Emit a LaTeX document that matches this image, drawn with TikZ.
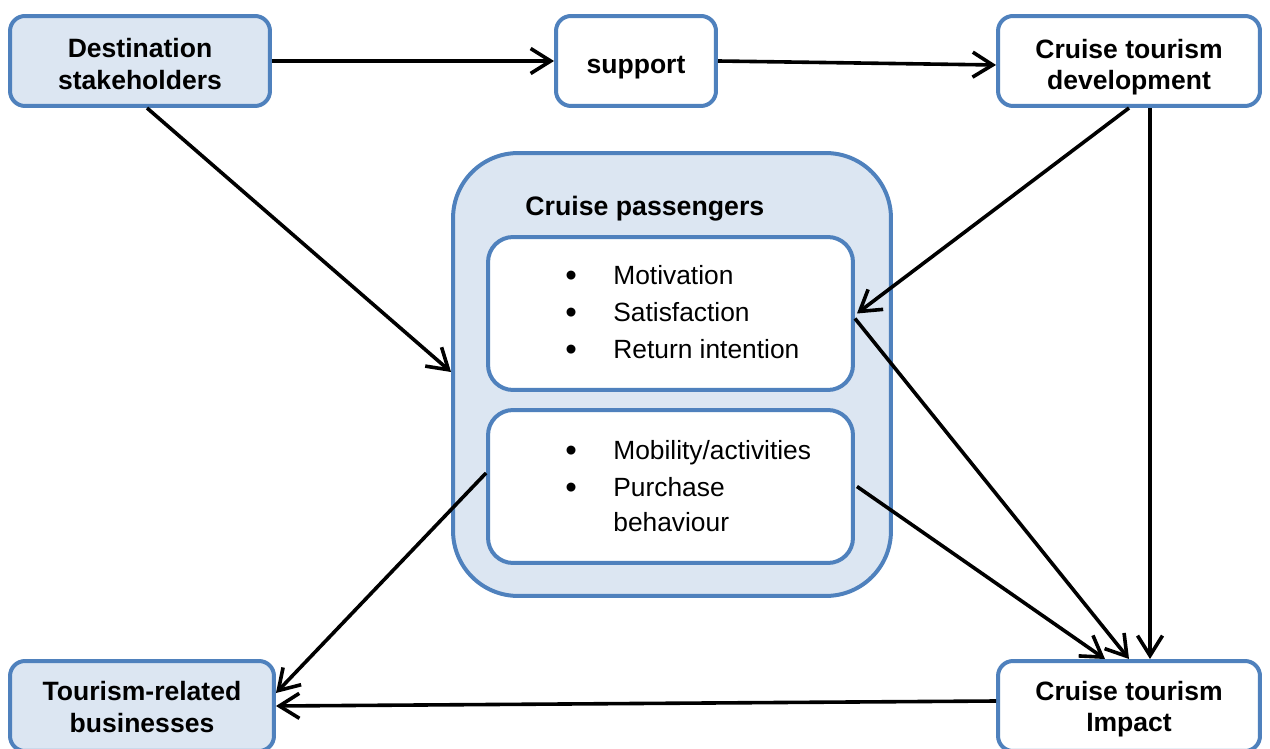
\documentclass[tikz,border=0pt]{standalone}
\usepackage{fontspec}
\setmainfont{Liberation Sans}
\usetikzlibrary{arrows.meta,calc}
\definecolor{boxline}{HTML}{4F81BD}
\definecolor{boxfill}{HTML}{DCE6F2}
\tikzset{
  box/.style={draw=boxline, line width=0.08cm, rounded corners=0.3cm,
    inner sep=0pt, minimum height=1.8cm},
  bluebox/.style={box, fill=boxfill},
  whitebox/.style={box, fill=white},
  boxtext/.style={align=center, inner sep=0pt, text=black,
    font=\fontsize{15.1pt}{17.8pt}\selectfont\bfseries},
  listbox/.style={draw=boxline, line width=0.08cm, rounded corners=0.5cm,
    fill=white, minimum width=7.3cm, minimum height=3.06cm},
  listtext/.style={anchor=west, align=left, inner sep=0pt,
    font=\fontsize{15pt}{21pt}\selectfont},
  link/.style={draw=black, line width=0.072cm,
    -{Straight Barb[length=0.4cm, width=0.5cm, line width=0.072cm]}},
}
\newcommand{\bul}{\makebox[0.96cm][l]{\raisebox{-0.06em}{\scalebox{1.25}{\textbullet}}}}
\begin{document}
\begin{tikzpicture}[x=0.02cm, y=-0.02cm]
  \useasboundingbox (0,0) rectangle (1270,749);

  % top row
  \node[bluebox, minimum width=5.2cm] (dest) at (140,61) {};
  \node[boxtext] (destt) at ([yshift=-0.06cm]dest.center) {Destination\\stakeholders};
  \node[whitebox, minimum width=3.2cm] (sup) at (636,61) {};
  \node[boxtext] (supt) at ([yshift=-0.14cm]sup.center) {support};
  \node[whitebox, minimum width=5.24cm] (dev) at (1129,61) {};
  \node[boxtext] (devt) at ([yshift=-0.12cm]dev.center) {Cruise tourism\\development};

  % central group
  \node[draw=boxline, line width=0.08cm, rounded corners=1.3cm, fill=boxfill,
    minimum width=8.76cm, minimum height=8.86cm] (pass) at (672,374.5) {};
  \node[anchor=west, inner sep=0pt, font=\fontsize{15.2pt}{17.8pt}\selectfont\bfseries]
    (passlbl) at (525,209) {Cruise passengers};
  \node[listbox] (in1) at (670.5,313.5) {};
  \node[listbox] (in2) at (670.5,486.5) {};
  \node[listtext] (l1) at (565,313)
    {\bul Motivation\\ \bul Satisfaction\\ \bul Return intention};
  \node[listtext, font=\fontsize{15pt}{19.5pt}\selectfont] (l2) at (565,486)
    {\bul Mobility/activities\\[1.5pt] \bul Purchase\\ \hspace*{0.96cm}behaviour};

  % bottom row
  \node[bluebox, minimum width=5.28cm] (biz) at (142,706) {};
  \node[boxtext] (bizt) at ([yshift=-0.02cm]biz.center) {Tourism-related\\businesses};
  \node[whitebox, minimum width=5.24cm] (imp) at (1129,706) {};
  \node[boxtext] (impt) at ([yshift=-0.06cm]imp.center) {Cruise tourism\\Impact};

  % connectors
  \draw[link] (dest.east) -- (sup.west);
  \draw[link] (sup.east) -- ([yshift=-0.08cm]dev.west);
  \draw[link] ([xshift=0.14cm]dest.south) -- ([yshift=0.05cm]pass.west);
  \draw[link] (dev.south) -- ([xshift=0.04cm]in1.east);
  \draw[link] ([xshift=0.42cm]dev.south) -- ([xshift=0.42cm]imp.north);
  \draw[link] ([yshift=-0.1cm]in1.east) -- (imp.north);
  \draw[link] ([xshift=0.04cm]in2.east) -- ([xshift=-0.48cm]imp.north);
  \draw[link] ([yshift=0.27cm]in2.west) -- ([yshift=0.26cm]biz.east);
  \draw[link] ([yshift=0.1cm]imp.west) -- ([yshift=0cm]biz.east);
\end{tikzpicture}
\end{document}
